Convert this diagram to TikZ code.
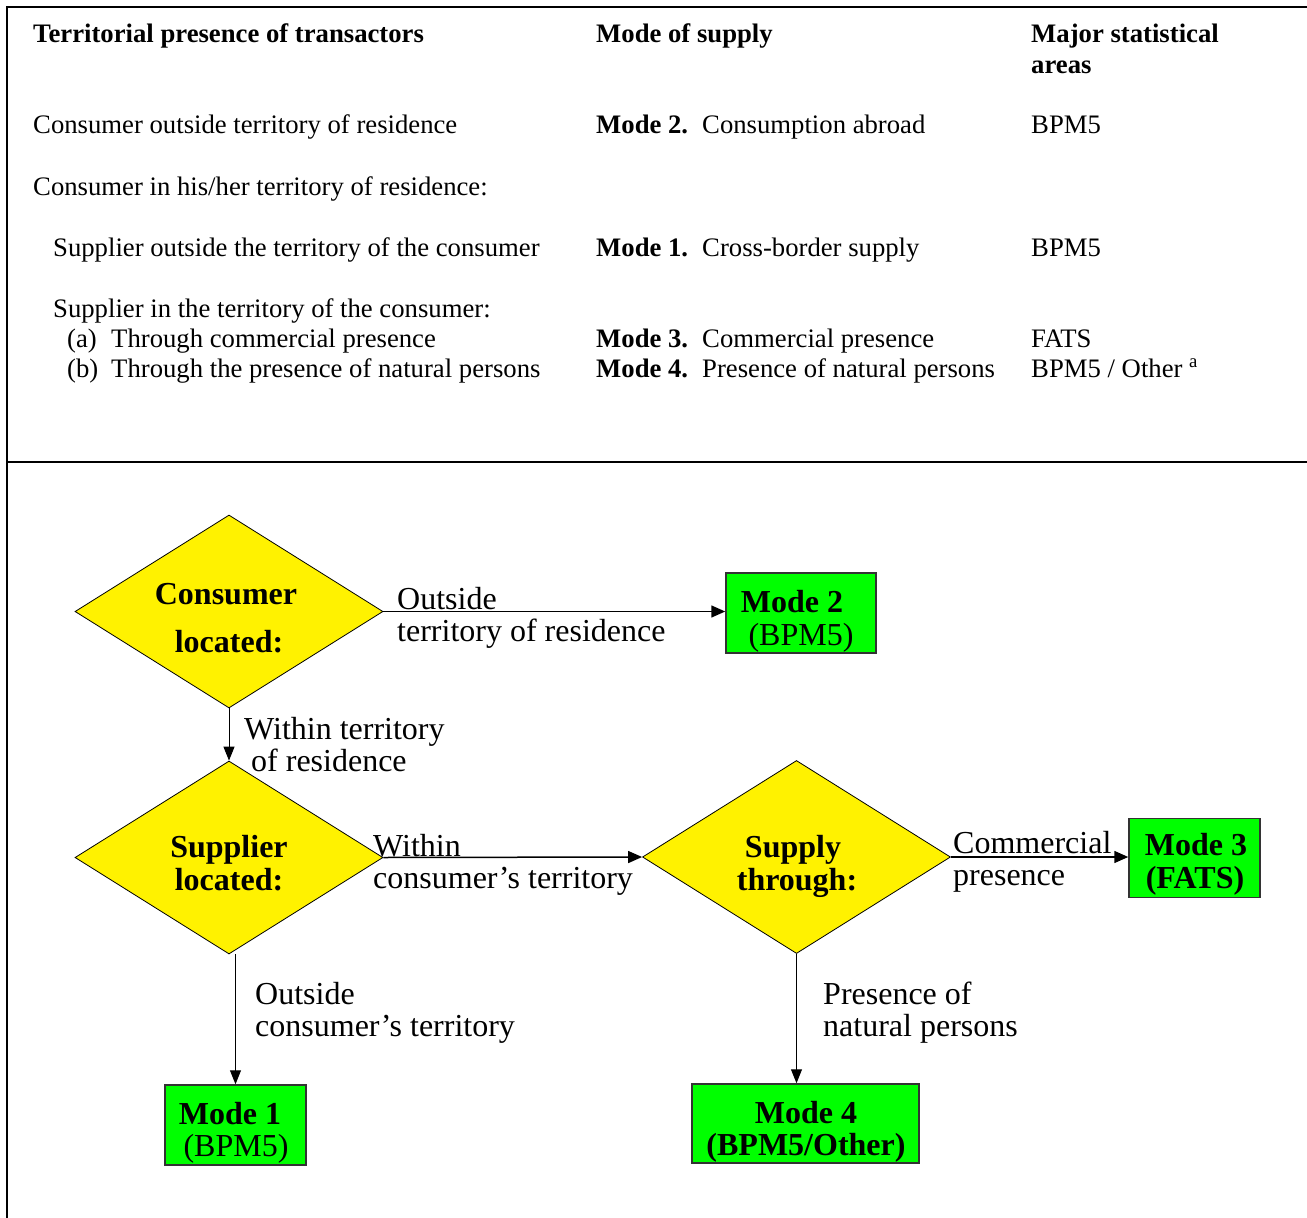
\documentclass[tikz,border=0pt]{standalone}
\usepackage{fontspec}
\setmainfont{Liberation Serif}
\usetikzlibrary{shapes.geometric,arrows.meta}
\begin{document}
\begin{tikzpicture}[x=1pt,y=-1pt,
  tbl/.style={anchor=base west,inner sep=0pt,font=\fontsize{26.7}{30}\selectfont},
  tblb/.style={anchor=base west,inner sep=0pt,font=\fontsize{26.7}{30}\selectfont\bfseries},
  lbl/.style={anchor=base west,inner sep=0pt,font=\fontsize{32}{33}\selectfont},
  dtxt/.style={anchor=base,inner sep=0pt,font=\fontsize{32}{33}\selectfont\bfseries},
  btxt/.style={anchor=base,inner sep=0pt,font=\fontsize{32}{33}\selectfont},
  dec/.style={diamond,draw=black,fill=yellow,line width=0.8pt,minimum width=308pt,minimum height=193pt,inner sep=0pt},
  modebox/.style={rectangle,draw=black!80,fill=green,line width=1.5pt,inner sep=0pt},
  arr/.style={-{Triangle[length=14pt,width=12pt]},line width=1.5pt},
  varr/.style={-{Triangle[length=14pt,width=11pt]},line width=1pt},
  frameline/.style={line width=2pt}
]
\useasboundingbox (0,0) rectangle (1307,1218);
% frame
\draw[frameline] (7,1218) -- (7,7) -- (1307,7);
\draw[frameline] (7,462) -- (1307,462);

% table
\node[tblb] (h1) at (33,42) {Territorial presence of transactors};
\node[tblb] (h2) at (596,42) {Mode of supply};
\node[tblb] (h3) at (1031,42) {Major statistical};
\node[tblb] (h3b) at (1031,73) {areas};

\node[tbl] (r1a) at (33,133) {Consumer outside territory of residence};
\node[tblb] (r1b) at (596,133) {Mode 2.};
\node[tbl] (r1c) at (702,133) {Consumption abroad};
\node[tbl] (r1d) at (1031,133) {BPM5};

\node[tbl] (r2a) at (33,195) {Consumer in his/her territory of residence:};

\node[tbl] (r3a) at (53,256) {Supplier outside the territory of the consumer};
\node[tblb] (r3b) at (596,256) {Mode 1.};
\node[tbl] (r3c) at (702,256) {Cross-border supply};
\node[tbl] (r3d) at (1031,256) {BPM5};

\node[tbl] (r4a) at (53,317) {Supplier in the territory of the consumer:};

\node[tbl] (r5a) at (67,347) {(a)};
\node[tbl] (r5b) at (111,347) {Through commercial presence};
\node[tblb] (r5c) at (596,347) {Mode 3.};
\node[tbl] (r5d) at (702,347) {Commercial presence};
\node[tbl] (r5e) at (1031,347) {FATS};

\node[tbl] (r6a) at (67,377) {(b)};
\node[tbl] (r6b) at (111,377) {Through the presence of natural persons};
\node[tblb] (r6c) at (596,377) {Mode 4.};
\node[tbl] (r6d) at (702,377) {Presence of natural persons};
\node[tbl] (r6e) at (1031,377) {BPM5 / Other \textsuperscript{a}};

% diagram shapes
\node[dec] (d1) at (229,611.5) {};
\node[dec] (d2) at (229,857.5) {};
\node[dec] (d3) at (796.5,857) {};

\node[modebox,minimum width=150pt,minimum height=80pt] (m2) at (801,613) {};
\node[modebox,minimum width=131pt,minimum height=79pt] (m3) at (1194.5,858) {};
\node[modebox,minimum width=141pt,minimum height=80pt] (m1) at (235.5,1125) {};
\node[modebox,minimum width=227pt,minimum height=79pt] (m4) at (805.5,1123.5) {};

% connectors
\draw[arr] (d1.east) -- (d1.east -| m2.west);
\draw[varr] (d1.south) -- (d2.north);
\draw[arr] (d2.east) -- (d3.west);
\draw[arr] (d3.east) -- (d3.east -| m3.west);
\draw[varr] (m1.north |- d2.south) -- (m1.north);
\draw[varr] (d3.south) -- (d3.south |- m4.north);

% diamond texts
\node[dtxt] (t1a) at (226,604) {Consumer};
\node[dtxt] (t1b) at (229,652) {located:};
\node[dtxt] (t2a) at (229,857) {Supplier};
\node[dtxt] (t2b) at (229,890) {located:};
\node[dtxt] (t3a) at (793,857) {Supply};
\node[dtxt] (t3b) at (797,890) {through:};

% box texts
\node[dtxt] (b2a) at (792,612) {Mode 2};
\node[btxt] (b2b) at (801,645) {(BPM5)};
\node[dtxt] (b3a) at (1196,855) {Mode 3};
\node[dtxt] (b3b) at (1195,888) {(FATS)};
\node[dtxt] (b1a) at (230,1124) {Mode 1};
\node[btxt] (b1b) at (236,1156) {(BPM5)};
\node[dtxt] (b4a) at (806,1123) {Mode 4};
\node[dtxt] (b4b) at (806,1155) {(BPM5/Other)};

% connector labels
\node[lbl] (l1a) at (397,609) {Outside};
\node[lbl] (l1b) at (397,641) {territory of residence};
\node[lbl] (l2a) at (244,739) {Within territory};
\node[lbl] (l2b) at (251,771) {of residence};
\node[lbl] (l3a) at (373,856) {Within};
\node[lbl] (l3b) at (373,888) {consumer’s territory};
\node[lbl] (l4a) at (953,853) {Commercial};
\node[lbl] (l4b) at (953,885) {presence};
\node[lbl] (l5a) at (255,1004) {Outside};
\node[lbl] (l5b) at (255,1036) {consumer’s territory};
\node[lbl] (l6a) at (823,1004) {Presence of};
\node[lbl] (l6b) at (823,1036) {natural persons};
\end{tikzpicture}
\end{document}
